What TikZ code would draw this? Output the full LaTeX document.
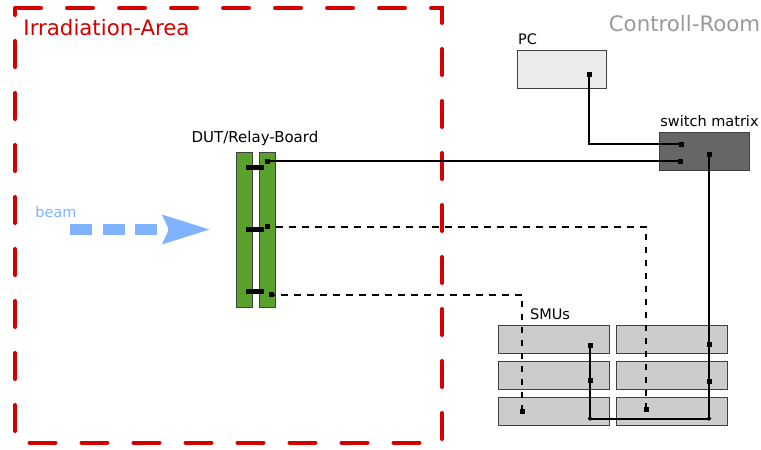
\documentclass[tikz,border=0pt]{standalone}
\usepackage{fontspec}
\setmainfont{DejaVu Sans}
\usepackage{tikz}
\usetikzlibrary{arrows.meta}
\definecolor{areared}{HTML}{D40000}
\definecolor{beamblue}{HTML}{80B3FF}
\definecolor{boardgreen}{HTML}{5AA02C}
\tikzset{
	devbox/.style={draw=black!75,line width=1pt,inner sep=0pt},
	term/.style={fill=black,inner sep=0pt,minimum size=5pt},
	wire/.style={line width=2pt},
	dashwire/.style={line width=2pt,dash pattern=on 6.5pt off 6.5pt},
	lbl/.style={inner sep=0pt,font=\fontsize{14.5}{17}\selectfont},
}

\begin{document}
\begin{tikzpicture}[x=1pt,y=-1pt]
			\useasboundingbox (0,0) rectangle (761,450);

			\draw[areared,line width=4pt,line cap=round,dash pattern=on 26pt off 26pt,dash phase=19pt] (15,8) -- (15,442.5) -- (442,442.5) -- (442,8) -- cycle;
			\node[lbl,areared,font=\fontsize{21.3}{25}\selectfont] (irr) at (106.5,28) {Irradiation-Area};
			\node[lbl,black!40,font=\fontsize{21.3}{25}\selectfont] (room) at (684.5,24) {Controll-Room};

			\node[lbl,beamblue] (beamlabel) at (56,212) {beam};
			\coordinate (beamstart) at (70,229.5);
			\coordinate (beamend) at (211,229.5);
			\draw[beamblue,line width=11pt,dash pattern=on 22pt off 10.5pt,-{Stealth[length=47pt,width=27pt,inset=5pt]}] (beamstart) -- (beamend);

			\node[devbox,fill=boardgreen,minimum width=16pt,minimum height=155pt] (boardl) at (244,229.5) {};
			\node[devbox,fill=boardgreen,minimum width=16pt,minimum height=155pt] (boardr) at (267.5,229.5) {};
			\node[lbl,font=\fontsize{15}{17}\selectfont] (boardlabel) at (255,138) {DUT/Relay-Board};
			\node[fill=black,inner sep=0pt,minimum width=18pt,minimum height=5pt] (reltop) at (255,167.5) {};
			\node[fill=black,inner sep=0pt,minimum width=18pt,minimum height=5pt] (relmid) at (255,229.5) {};
			\node[fill=black,inner sep=0pt,minimum width=18pt,minimum height=5pt] (relbot) at (255,291) {};

			\node[devbox,fill=black!8,minimum width=89pt,minimum height=38pt] (pc) at (561.5,69.5) {};
			\node[lbl] (pclabel) at (527.5,39) {PC};
			\node[devbox,fill=black!60,minimum width=90pt,minimum height=38pt] (switch) at (704,151) {};
			\node[lbl] (switchlabel) at (709.5,121) {switch matrix};

			\node[devbox,fill=black!20,minimum width=111pt,minimum height=28pt] (smua) at (553.5,339) {};
			\node[devbox,fill=black!20,minimum width=111pt,minimum height=28pt] (smub) at (553.5,375) {};
			\node[devbox,fill=black!20,minimum width=111pt,minimum height=28pt] (smuc) at (553.5,411) {};
			\node[devbox,fill=black!20,minimum width=111pt,minimum height=28pt] (smud) at (671.5,339) {};
			\node[devbox,fill=black!20,minimum width=111pt,minimum height=28pt] (smue) at (671.5,375) {};
			\node[devbox,fill=black!20,minimum width=111pt,minimum height=28pt] (smuf) at (671.5,411) {};
			\node[lbl] (smulabel) at (550,314) {SMUs};

			\node[term] (pcout) at (589,74) {};
			\node[term] (swpc) at (681,144) {};
			\node[term] (swboard) at (680,161) {};
			\node[term] (swsmu) at (709,154) {};
			\node[term] (boardtop) at (267,161) {};
			\node[term] (boardmid) at (267,226.5) {};
			\node[term] (boardbot) at (271,294.5) {};
			\node[term] (smuaout) at (590,345) {};
			\node[term] (smubout) at (590,380) {};
			\node[term] (smucout) at (522,411) {};
			\node[term] (smudout) at (709,344) {};
			\node[term] (smueout) at (709,381) {};
			\node[term] (smufout) at (646,409) {};
			\node[term,rotate=45,minimum size=3.5pt] (jointl) at (590,418.5) {};
			\node[term,rotate=45,minimum size=3.5pt] (jointr) at (709,418.5) {};

			\draw[wire] (pcout.center) |- (swpc.center);
			\draw[wire] (boardtop.center) -- (swboard.center);
			\draw[wire] (swsmu.center) -- (jointr.center);
			\draw[wire] (smuaout.center) -- (jointl.center);
			\draw[wire] (jointl.center) -- (jointr.center);
			\draw[dashwire] (smufout.center) |- (boardmid.center);
			\draw[dashwire] (smucout.center) |- (boardbot.center);
		\end{tikzpicture}
\end{document}
